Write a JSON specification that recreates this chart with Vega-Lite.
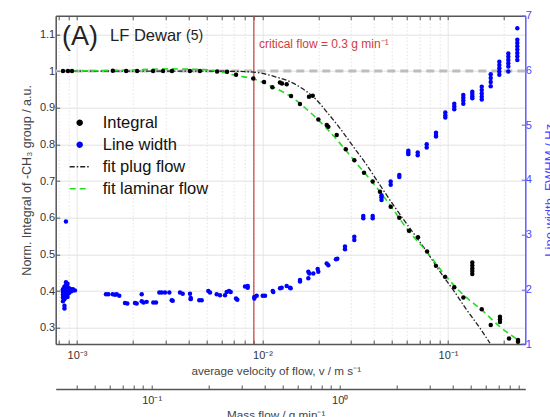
{
  "$schema": "https://vega.github.io/schema/vega-lite/v6.json",
  "description": "Normalised CH3 integral and line width versus average flow velocity, LF Dewar (5)",
  "width": 469.6,
  "height": 328.3,
  "autosize": "none",
  "padding": {"left": 55.7, "top": 15.7, "right": 24.7, "bottom": 73},
  "background": "white",
  "config": {
    "font": "Liberation Sans",
    "view": {"stroke": null},
    "axis": {"titleFontWeight": "normal", "labelFont": "Liberation Sans", "titleFont": "Liberation Sans"}
  },
  "datasets": {
    "integral": [
      {"v": 0.00084, "val": 1.0}, {"v": 0.000894, "val": 1.0}, {"v": 0.00094, "val": 1.0},
      {"v": 0.00156, "val": 1.001}, {"v": 0.00184, "val": 1.0}, {"v": 0.00211, "val": 1.0},
      {"v": 0.00257, "val": 1.0}, {"v": 0.00291, "val": 1.0}, {"v": 0.00325, "val": 1.0},
      {"v": 0.00406, "val": 1.0}, {"v": 0.0046, "val": 1.0}, {"v": 0.00569, "val": 0.999},
      {"v": 0.00644, "val": 0.998}, {"v": 0.0072, "val": 0.99}, {"v": 0.00892, "val": 0.98},
      {"v": 0.01019, "val": 0.97}, {"v": 0.0113, "val": 0.956}, {"v": 0.01242, "val": 0.969},
      {"v": 0.01274, "val": 0.966}, {"v": 0.0135, "val": 0.964}, {"v": 0.01425, "val": 0.932},
      {"v": 0.01592, "val": 0.91}, {"v": 0.01781, "val": 0.93}, {"v": 0.01866, "val": 0.933},
      {"v": 0.02, "val": 0.868}, {"v": 0.0222, "val": 0.853}, {"v": 0.02264, "val": 0.848},
      {"v": 0.02512, "val": 0.826}, {"v": 0.02811, "val": 0.787}, {"v": 0.03127, "val": 0.757},
      {"v": 0.03525, "val": 0.723}, {"v": 0.03926, "val": 0.699}, {"v": 0.04298, "val": 0.671},
      {"v": 0.0491, "val": 0.63}, {"v": 0.0546, "val": 0.6}, {"v": 0.0616, "val": 0.565},
      {"v": 0.0689, "val": 0.547}, {"v": 0.0771, "val": 0.508}, {"v": 0.0861, "val": 0.469},
      {"v": 0.0964, "val": 0.439}, {"v": 0.1081, "val": 0.411}, {"v": 0.121, "val": 0.383},
      {"v": 0.1352, "val": 0.478}, {"v": 0.1352, "val": 0.47}, {"v": 0.1352, "val": 0.462},
      {"v": 0.1352, "val": 0.455}, {"v": 0.1352, "val": 0.447}, {"v": 0.152, "val": 0.351},
      {"v": 0.17, "val": 0.308}, {"v": 0.1906, "val": 0.33}, {"v": 0.1906, "val": 0.323},
      {"v": 0.1906, "val": 0.316}, {"v": 0.2133, "val": 0.271}, {"v": 0.2384, "val": 0.267},
      {"v": 0.2384, "val": 0.262}
    ],
    "plug": [
      {"v": 0.00083, "val": 1.0}, {"v": 0.00248, "val": 1.0}, {"v": 0.0046, "val": 1.0},
      {"v": 0.00756, "val": 0.999}, {"v": 0.00969, "val": 0.995}, {"v": 0.01143, "val": 0.986},
      {"v": 0.01407, "val": 0.971}, {"v": 0.01731, "val": 0.944}, {"v": 0.0196, "val": 0.921},
      {"v": 0.02219, "val": 0.889}, {"v": 0.02617, "val": 0.844}, {"v": 0.03087, "val": 0.794},
      {"v": 0.03646, "val": 0.744}, {"v": 0.043, "val": 0.689}, {"v": 0.05072, "val": 0.635},
      {"v": 0.06239, "val": 0.571}, {"v": 0.07677, "val": 0.508}, {"v": 0.09055, "val": 0.453},
      {"v": 0.1068, "val": 0.403}, {"v": 0.1261, "val": 0.349}, {"v": 0.1488, "val": 0.299},
      {"v": 0.1684, "val": 0.258}
    ],
    "laminar": [
      {"v": 0.00083, "val": 1.0}, {"v": 0.001705, "val": 1.002}, {"v": 0.00317, "val": 1.006},
      {"v": 0.00484, "val": 1.004}, {"v": 0.00569, "val": 1.0}, {"v": 0.0072, "val": 0.988},
      {"v": 0.00892, "val": 0.979}, {"v": 0.01143, "val": 0.956}, {"v": 0.01407, "val": 0.932},
      {"v": 0.01731, "val": 0.896}, {"v": 0.02127, "val": 0.853}, {"v": 0.02617, "val": 0.803},
      {"v": 0.03219, "val": 0.748}, {"v": 0.03957, "val": 0.694}, {"v": 0.04868, "val": 0.635},
      {"v": 0.0611, "val": 0.565}, {"v": 0.07677, "val": 0.508}, {"v": 0.0963, "val": 0.444},
      {"v": 0.1209, "val": 0.39}, {"v": 0.152, "val": 0.349}, {"v": 0.1906, "val": 0.303},
      {"v": 0.2385, "val": 0.267}
    ],
    "linewidth": [
      {"v": 0.00084, "lw": 1.78}, {"v": 0.00084, "lw": 1.85}, {"v": 0.00084, "lw": 1.9},
      {"v": 0.00084, "lw": 1.95}, {"v": 0.00084, "lw": 1.98}, {"v": 0.00084, "lw": 2.0},
      {"v": 0.000856, "lw": 1.65}, {"v": 0.000856, "lw": 1.7}, {"v": 0.000856, "lw": 1.82},
      {"v": 0.000856, "lw": 1.88}, {"v": 0.000856, "lw": 1.93}, {"v": 0.000856, "lw": 2.05},
      {"v": 0.000872, "lw": 1.88}, {"v": 0.000872, "lw": 1.92}, {"v": 0.000872, "lw": 1.96},
      {"v": 0.000872, "lw": 2.02}, {"v": 0.000872, "lw": 2.07}, {"v": 0.000872, "lw": 2.13},
      {"v": 0.000872, "lw": 3.24}, {"v": 0.000889, "lw": 1.86}, {"v": 0.000889, "lw": 1.91},
      {"v": 0.000889, "lw": 1.96}, {"v": 0.000889, "lw": 2.04}, {"v": 0.000889, "lw": 2.1},
      {"v": 0.000906, "lw": 1.93}, {"v": 0.000906, "lw": 1.98}, {"v": 0.000906, "lw": 2.02},
      {"v": 0.000928, "lw": 1.96}, {"v": 0.000928, "lw": 2.0}, {"v": 0.000951, "lw": 1.98},
      {"v": 0.000951, "lw": 2.0}, {"v": 0.000975, "lw": 1.98},
      {"v": 0.001433, "lw": 1.91}, {"v": 0.001475, "lw": 1.91}, {"v": 0.001557, "lw": 1.91},
      {"v": 0.001603, "lw": 1.9}, {"v": 0.001637, "lw": 1.91}, {"v": 0.00169, "lw": 1.88},
      {"v": 0.001815, "lw": 1.75}, {"v": 0.001867, "lw": 1.74}, {"v": 0.002054, "lw": 1.75},
      {"v": 0.002098, "lw": 1.74}, {"v": 0.002233, "lw": 1.91}, {"v": 0.002233, "lw": 1.78},
      {"v": 0.002283, "lw": 1.76}, {"v": 0.002375, "lw": 1.77}, {"v": 0.002578, "lw": 1.76},
      {"v": 0.002667, "lw": 1.76}, {"v": 0.002778, "lw": 1.94}, {"v": 0.002862, "lw": 1.94},
      {"v": 0.002981, "lw": 1.94}, {"v": 0.003145, "lw": 1.94}, {"v": 0.00324, "lw": 1.8},
      {"v": 0.003281, "lw": 1.79}, {"v": 0.003592, "lw": 1.94}, {"v": 0.003714, "lw": 1.92},
      {"v": 0.004066, "lw": 1.92}, {"v": 0.004101, "lw": 1.84}, {"v": 0.004101, "lw": 1.82},
      {"v": 0.004563, "lw": 1.8}, {"v": 0.0047, "lw": 1.8}, {"v": 0.005104, "lw": 1.97},
      {"v": 0.005212, "lw": 1.94}, {"v": 0.005664, "lw": 1.91}, {"v": 0.005901, "lw": 1.89},
      {"v": 0.006279, "lw": 1.89}, {"v": 0.006412, "lw": 1.95}, {"v": 0.006598, "lw": 1.97},
      {"v": 0.006739, "lw": 1.95}, {"v": 0.007196, "lw": 1.83}, {"v": 0.007314, "lw": 1.81},
      {"v": 0.008048, "lw": 2.05}, {"v": 0.008322, "lw": 2.03}, {"v": 0.008322, "lw": 2.06},
      {"v": 0.009033, "lw": 1.83}, {"v": 0.009033, "lw": 1.86}, {"v": 0.009305, "lw": 1.88},
      {"v": 0.010025, "lw": 1.88}, {"v": 0.010316, "lw": 1.88}, {"v": 0.01135, "lw": 1.97},
      {"v": 0.01143, "lw": 1.95}, {"v": 0.01243, "lw": 2.02}, {"v": 0.01269, "lw": 2.03},
      {"v": 0.0135, "lw": 2.06}, {"v": 0.01407, "lw": 2.03}, {"v": 0.01419, "lw": 2.02},
      {"v": 0.01593, "lw": 2.17}, {"v": 0.01593, "lw": 2.14}, {"v": 0.01766, "lw": 2.32},
      {"v": 0.01766, "lw": 2.2}, {"v": 0.01788, "lw": 2.29}, {"v": 0.01879, "lw": 2.29},
      {"v": 0.01984, "lw": 2.37}, {"v": 0.01999, "lw": 2.32}, {"v": 0.02219, "lw": 2.47},
      {"v": 0.02263, "lw": 2.44}, {"v": 0.0249, "lw": 2.55}, {"v": 0.02531, "lw": 2.56},
      {"v": 0.02784, "lw": 2.78}, {"v": 0.02784, "lw": 2.73}, {"v": 0.03125, "lw": 2.96},
      {"v": 0.03125, "lw": 2.9}, {"v": 0.03494, "lw": 3.34}, {"v": 0.03494, "lw": 3.3},
      {"v": 0.03927, "lw": 3.34}, {"v": 0.03927, "lw": 3.3}, {"v": 0.0438, "lw": 3.72},
      {"v": 0.0438, "lw": 3.63}, {"v": 0.0438, "lw": 3.68}, {"v": 0.0491, "lw": 3.97},
      {"v": 0.0491, "lw": 3.91}, {"v": 0.05464, "lw": 4.09}, {"v": 0.05464, "lw": 4.05},
      {"v": 0.06109, "lw": 4.53}, {"v": 0.06109, "lw": 4.47}, {"v": 0.06109, "lw": 4.5},
      {"v": 0.06866, "lw": 4.5}, {"v": 0.06866, "lw": 4.45}, {"v": 0.07677, "lw": 4.65},
      {"v": 0.07677, "lw": 4.59}, {"v": 0.08614, "lw": 4.86}, {"v": 0.08614, "lw": 4.79},
      {"v": 0.08614, "lw": 4.82}, {"v": 0.09672, "lw": 5.23}, {"v": 0.09672, "lw": 5.14},
      {"v": 0.09672, "lw": 5.18}, {"v": 0.1081, "lw": 5.39}, {"v": 0.1081, "lw": 5.34},
      {"v": 0.1081, "lw": 5.29}, {"v": 0.1209, "lw": 5.55}, {"v": 0.1209, "lw": 5.5},
      {"v": 0.1209, "lw": 5.45}, {"v": 0.1209, "lw": 5.39}, {"v": 0.1352, "lw": 5.61},
      {"v": 0.1352, "lw": 5.57}, {"v": 0.1352, "lw": 5.53}, {"v": 0.1352, "lw": 5.49},
      {"v": 0.152, "lw": 5.7}, {"v": 0.152, "lw": 5.64}, {"v": 0.152, "lw": 5.58},
      {"v": 0.152, "lw": 5.52}, {"v": 0.152, "lw": 5.47}, {"v": 0.1699, "lw": 5.93},
      {"v": 0.1699, "lw": 5.86}, {"v": 0.1699, "lw": 5.79}, {"v": 0.1699, "lw": 5.71},
      {"v": 0.1891, "lw": 6.16}, {"v": 0.1891, "lw": 6.1}, {"v": 0.1891, "lw": 6.04},
      {"v": 0.1891, "lw": 5.98}, {"v": 0.1891, "lw": 5.92}, {"v": 0.2114, "lw": 6.31},
      {"v": 0.2114, "lw": 6.25}, {"v": 0.2114, "lw": 6.19}, {"v": 0.2114, "lw": 6.13},
      {"v": 0.2114, "lw": 6.07}, {"v": 0.2114, "lw": 5.98}, {"v": 0.2364, "lw": 6.77},
      {"v": 0.2364, "lw": 6.56}, {"v": 0.2364, "lw": 6.5}, {"v": 0.2364, "lw": 6.44},
      {"v": 0.2364, "lw": 6.38}, {"v": 0.2364, "lw": 6.32}, {"v": 0.2364, "lw": 6.26},
      {"v": 0.2364, "lw": 6.19}
    ],
    "massRange": [{"m": 0.0309}, {"m": 9.7}],
    "velRange": [{"v": 0.0007677}, {"v": 0.261}]
  },
  "layer": [
    {
      "layer": [
        {
          "layer": [
            {
              "data": {"values": [{}]},
              "mark": {"type": "rule", "color": "#bdbdbd", "strokeWidth": 3, "strokeDash": [8, 5]},
              "encoding": {"y": {"datum": 1, "type": "quantitative"}}
            },
            {
              "data": {"values": [{}]},
              "mark": {"type": "rule", "color": "#cf3b3b", "strokeWidth": 1.2},
              "encoding": {"x": {"datum": 0.00898, "type": "quantitative"}}
            },
            {
              "data": {"name": "plug"},
              "mark": {"type": "line", "strokeWidth": 1.3, "strokeDash": [5, 2, 1.5, 2], "interpolate": "monotone"},
              "encoding": {
                "x": {
                  "field": "v", "type": "quantitative",
                  "scale": {"type": "log", "domain": [0.0007677, 0.261], "nice": false},
                  "axis": {
                    "orient": "bottom",
                    "values": [0.0008, 0.0009, 0.001, 0.002, 0.003, 0.004, 0.005, 0.006, 0.007, 0.008, 0.009, 0.01, 0.02, 0.03, 0.04, 0.05, 0.06, 0.07, 0.08, 0.09, 0.1, 0.2],
                    "labelExpr": "datum.value == 0.001 ? '10⁻³' : datum.value == 0.01 ? '10⁻²' : datum.value == 0.1 ? '10⁻¹' : ''",
                    "labelOverlap": false, "labelFlush": false,
                    "grid": true, "gridColor": "#e2e2e2",
                    "gridDash": {"condition": {"test": "datum.value == 0.001 || datum.value == 0.01 || datum.value == 0.1", "value": [1, 0]}, "value": [1.5, 2]},
                    "tickSize": -4, "tickColor": "#555555", "domainColor": "#555555", "domainWidth": 1.5,
                    "labelFontSize": 11, "labelColor": "#333333", "labelPadding": 9,
                    "title": "average velocity of flow, v / m s⁻¹", "titleFontSize": 11.7, "titleColor": "#444444", "titlePadding": 5, "titleX": 220
                  }
                },
                "y": {
                  "field": "val", "type": "quantitative",
                  "scale": {"domain": [0.256, 1.151], "nice": false, "zero": false},
                  "axis": {
                    "orient": "left",
                    "values": [0.3, 0.4, 0.5, 0.6, 0.7, 0.8, 0.9, 1, 1.1],
                    "format": ".1~f",
                    "grid": true, "gridColor": "#e2e2e2",
                    "tickSize": -4, "tickColor": "#555555", "domainColor": "#555555", "domainWidth": 1.5,
                    "labelFontSize": 11, "labelColor": "#333333", "labelPadding": 5,
                    "title": "Norm. Integral of -CH₃ group / a.u.", "titleFontSize": 12.5, "titleColor": "#444444", "titlePadding": 6
                  }
                },
                "color": {
                  "datum": "fit plug flow", "type": "nominal",
                  "scale": {"domain": ["Integral", "Line width", "fit plug flow", "fit laminar flow"], "range": ["#000000", "#0000ff", "#222222", "#22dd22"]},
                  "legend": {
                    "orient": "none", "legendX": 13, "legendY": 96, "title": null, "padding": 0,
                    "labelFont": "Liberation Sans", "labelFontSize": 16.5, "labelColor": "#111111",
                    "symbolSize": 400, "labelOffset": 12, "rowPadding": 2,
                    "encode": {
                      "symbols": {
                        "update": {
                          "shape": {"signal": "datum.value == 'Integral' || datum.value == 'Line width' ? 'circle' : 'stroke'"},
                          "size": {"signal": "datum.value == 'Integral' || datum.value == 'Line width' ? 24 : 400"},
                          "fill": {"signal": "datum.value == 'Integral' ? '#000000' : datum.value == 'Line width' ? '#0000ff' : 'transparent'"},
                          "stroke": {"signal": "datum.value == 'fit plug flow' ? '#222222' : datum.value == 'fit laminar flow' ? '#22dd22' : 'transparent'"},
                          "strokeDash": {"signal": "datum.value == 'fit plug flow' ? [5, 2, 1.5, 2] : datum.value == 'fit laminar flow' ? [6, 4] : [1, 0]"},
                          "strokeWidth": {"value": 1.5},
                          "opacity": {"value": 1}
                        }
                      }
                    }
                  }
                }
              }
            },
            {
              "data": {"name": "laminar"},
              "mark": {"type": "line", "strokeWidth": 1.6, "strokeDash": [6, 4], "interpolate": "monotone"},
              "encoding": {
                "x": {"field": "v", "type": "quantitative"},
                "y": {"field": "val", "type": "quantitative"},
                "color": {"datum": "fit laminar flow", "type": "nominal"}
              }
            },
            {
              "data": {"name": "integral"},
              "mark": {"type": "circle", "size": 20, "opacity": 1},
              "encoding": {
                "x": {"field": "v", "type": "quantitative"},
                "y": {"field": "val", "type": "quantitative"},
                "color": {"datum": "Integral", "type": "nominal"}
              }
            },
            {
              "data": {"values": [{"v": 0.00083, "val": 1.093, "label": "(A)"}]},
              "mark": {"type": "text", "align": "left", "baseline": "middle", "fontSize": 27, "color": "#222222"},
              "encoding": {
                "x": {"field": "v", "type": "quantitative"},
                "y": {"field": "val", "type": "quantitative"},
                "text": {"field": "label"}
              }
            },
            {
              "data": {"values": [{"v": 0.001507, "val": 1.0967, "label": "LF Dewar"}]},
              "mark": {"type": "text", "align": "left", "baseline": "middle", "fontSize": 16.5, "color": "#222222"},
              "encoding": {
                "x": {"field": "v", "type": "quantitative"},
                "y": {"field": "val", "type": "quantitative"},
                "text": {"field": "label"}
              }
            },
            {
              "data": {"values": [{"v": 0.00387, "val": 1.0967, "label": "(5)"}]},
              "mark": {"type": "text", "align": "left", "baseline": "middle", "fontSize": 14, "color": "#222222"},
              "encoding": {
                "x": {"field": "v", "type": "quantitative"},
                "y": {"field": "val", "type": "quantitative"},
                "text": {"field": "label"}
              }
            },
            {
              "data": {"values": [{"v": 0.00957, "val": 1.0736, "label": "critical flow = 0.3 g min⁻¹"}]},
              "mark": {"type": "text", "align": "left", "baseline": "middle", "fontSize": 12, "color": "#d23c3c"},
              "encoding": {
                "x": {"field": "v", "type": "quantitative"},
                "y": {"field": "val", "type": "quantitative"},
                "text": {"field": "label"}
              }
            }
          ]
        },
        {
          "data": {"name": "linewidth"},
          "mark": {"type": "circle", "size": 20, "opacity": 1},
          "encoding": {
            "x": {"field": "v", "type": "quantitative"},
            "y": {
              "field": "lw", "type": "quantitative",
              "scale": {"domain": [1, 7], "nice": false, "zero": false},
              "axis": {
                "orient": "right",
                "values": [1, 2, 3, 4, 5, 6, 7],
                "grid": false,
                "tickSize": -4, "tickColor": "#5c5cff", "domainColor": "#5c5cff", "domainWidth": 1.5,
                "labelFontSize": 11, "labelColor": "#4747ff", "labelPadding": 4,
                "title": "Line width, FWHM / Hz", "titleFontSize": 13, "titleColor": "#4747ff",
                "titleAngle": -90, "titleBaseline": "bottom", "titleX": 31, "titleY": 174
              }
            },
            "color": {"datum": "Line width", "type": "nominal"}
          }
        }
      ],
      "resolve": {"scale": {"y": "independent"}}
    },
    {
      "data": {"name": "massRange"},
      "mark": {"type": "point", "opacity": 0},
      "encoding": {
        "x": {
          "field": "m", "type": "quantitative",
          "scale": {"type": "log", "domain": [0.0309, 9.7], "nice": false},
          "axis": {
            "orient": "bottom", "offset": 45,
            "values": [0.04, 0.05, 0.06, 0.07, 0.08, 0.09, 0.1, 0.2, 0.3, 0.4, 0.5, 0.6, 0.7, 0.8, 0.9, 1, 2, 3, 4, 5, 6, 7, 8, 9],
            "labelExpr": "datum.value == 0.1 ? '10⁻¹' : datum.value == 1 ? '10⁰' : ''",
            "labelOverlap": false, "labelFlush": false,
            "grid": false,
            "tickSize": -4, "tickColor": "#555555", "domainColor": "#555555", "domainWidth": 1.5,
            "labelFontSize": 11, "labelColor": "#333333", "labelPadding": 9,
            "title": "Mass flow / g min⁻¹", "titleFontSize": 11.7, "titleColor": "#444444", "titlePadding": 4, "titleX": 220
          }
        }
      }
    },
    {
      "data": {"name": "velRange"},
      "mark": {"type": "point", "opacity": 0},
      "encoding": {
        "x": {
          "field": "v", "type": "quantitative",
          "scale": {"type": "log", "domain": [0.0007677, 0.261], "nice": false},
          "axis": {
            "orient": "top",
            "values": [0.0008, 0.0009, 0.001, 0.002, 0.003, 0.004, 0.005, 0.006, 0.007, 0.008, 0.009, 0.01, 0.02, 0.03, 0.04, 0.05, 0.06, 0.07, 0.08, 0.09, 0.1, 0.2],
            "labels": false, "grid": false, "title": null,
            "tickSize": -4, "tickColor": "#555555", "domainColor": "#555555", "domainWidth": 1.5
          }
        }
      }
    }
  ],
  "resolve": {"scale": {"x": "independent"}}
}
